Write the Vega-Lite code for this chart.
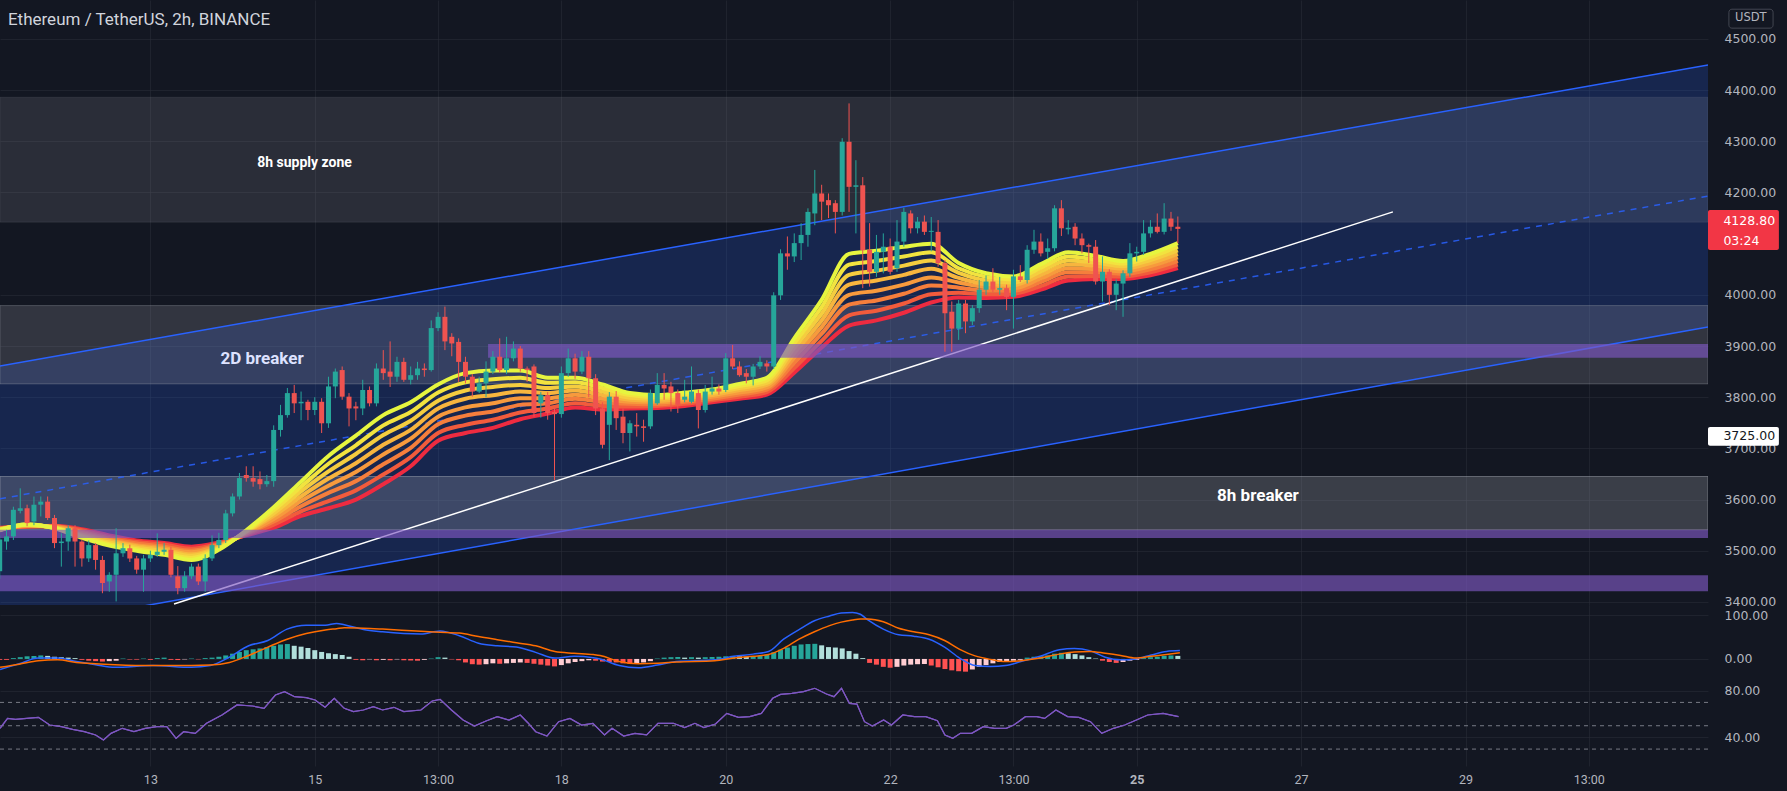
{
"$schema":"https://vega.github.io/schema/vega-lite/v6.json",
"background":"#131722",
"padding":0,
"spacing":0,
"bounds":"flush",
"config":{"view":{"stroke":null},"axis":{"labelFont":"Roboto","labelFontSize":12.5,"labelColor":"#b2b5be","gridColor":"#2a2e39","gridOpacity":0.55,"domain":false,"ticks":false}},
"datasets":{
"candles":[{"t":4,"o":3460,"hi":3530,"lo":3445,"c":3522},{"t":6,"o":3518,"hi":3541,"lo":3502,"c":3528},{"t":8,"o":3528,"hi":3586,"lo":3521,"c":3580},{"t":10,"o":3578,"hi":3622,"lo":3573,"c":3583},{"t":12,"o":3583,"hi":3590,"lo":3548,"c":3554},{"t":14,"o":3557,"hi":3606,"lo":3550,"c":3590},{"t":16,"o":3590,"hi":3606,"lo":3567,"c":3596},{"t":18,"o":3596,"hi":3606,"lo":3560,"c":3564},{"t":20,"o":3564,"hi":3570,"lo":3505,"c":3515},{"t":22,"o":3515,"hi":3534,"lo":3469,"c":3518},{"t":24,"o":3518,"hi":3550,"lo":3500,"c":3544},{"t":26,"o":3544,"hi":3550,"lo":3469,"c":3518},{"t":28,"o":3518,"hi":3522,"lo":3469,"c":3485},{"t":30,"o":3485,"hi":3520,"lo":3478,"c":3511},{"t":32,"o":3511,"hi":3515,"lo":3463,"c":3482},{"t":34,"o":3482,"hi":3490,"lo":3417,"c":3437},{"t":36,"o":3440,"hi":3458,"lo":3420,"c":3453},{"t":38,"o":3453,"hi":3544,"lo":3401,"c":3495},{"t":40,"o":3495,"hi":3515,"lo":3488,"c":3505},{"t":42,"o":3505,"hi":3512,"lo":3478,"c":3485},{"t":44,"o":3485,"hi":3490,"lo":3455,"c":3463},{"t":46,"o":3463,"hi":3492,"lo":3420,"c":3485},{"t":48,"o":3485,"hi":3500,"lo":3478,"c":3492},{"t":50,"o":3492,"hi":3534,"lo":3488,"c":3498},{"t":52,"o":3498,"hi":3515,"lo":3492,"c":3502},{"t":54,"o":3502,"hi":3508,"lo":3448,"c":3453},{"t":56,"o":3450,"hi":3470,"lo":3415,"c":3427},{"t":58,"o":3427,"hi":3460,"lo":3420,"c":3450},{"t":60,"o":3450,"hi":3475,"lo":3445,"c":3469},{"t":62,"o":3469,"hi":3475,"lo":3433,"c":3440},{"t":64,"o":3440,"hi":3493,"lo":3420,"c":3485},{"t":66,"o":3485,"hi":3530,"lo":3480,"c":3511},{"t":68,"o":3511,"hi":3535,"lo":3505,"c":3521},{"t":70,"o":3521,"hi":3580,"lo":3515,"c":3573},{"t":72,"o":3573,"hi":3612,"lo":3567,"c":3606},{"t":74,"o":3606,"hi":3652,"lo":3600,"c":3642},{"t":76,"o":3648,"hi":3665,"lo":3635,"c":3642},{"t":78,"o":3642,"hi":3665,"lo":3625,"c":3635},{"t":80,"o":3640,"hi":3655,"lo":3620,"c":3630},{"t":82,"o":3630,"hi":3648,"lo":3625,"c":3636},{"t":84,"o":3636,"hi":3745,"lo":3625,"c":3736},{"t":86,"o":3736,"hi":3785,"lo":3723,"c":3765},{"t":88,"o":3765,"hi":3818,"lo":3760,"c":3808},{"t":90,"o":3808,"hi":3824,"lo":3769,"c":3788},{"t":92,"o":3788,"hi":3811,"lo":3755,"c":3791},{"t":94,"o":3791,"hi":3795,"lo":3755,"c":3775},{"t":96,"o":3775,"hi":3800,"lo":3765,"c":3791},{"t":98,"o":3791,"hi":3798,"lo":3730,"c":3749},{"t":100,"o":3749,"hi":3840,"lo":3740,"c":3821},{"t":102,"o":3821,"hi":3856,"lo":3798,"c":3850},{"t":104,"o":3853,"hi":3860,"lo":3795,"c":3801},{"t":106,"o":3801,"hi":3808,"lo":3743,"c":3778},{"t":108,"o":3782,"hi":3791,"lo":3755,"c":3778},{"t":110,"o":3778,"hi":3834,"lo":3765,"c":3814},{"t":112,"o":3814,"hi":3821,"lo":3782,"c":3788},{"t":114,"o":3788,"hi":3866,"lo":3782,"c":3856},{"t":116,"o":3856,"hi":3892,"lo":3834,"c":3847},{"t":118,"o":3850,"hi":3909,"lo":3820,"c":3840},{"t":120,"o":3840,"hi":3879,"lo":3830,"c":3869},{"t":122,"o":3869,"hi":3877,"lo":3830,"c":3834},{"t":124,"o":3834,"hi":3860,"lo":3825,"c":3843},{"t":126,"o":3843,"hi":3869,"lo":3834,"c":3856},{"t":128,"o":3856,"hi":3866,"lo":3840,"c":3853},{"t":130,"o":3853,"hi":3950,"lo":3850,"c":3935},{"t":132,"o":3935,"hi":3966,"lo":3929,"c":3957},{"t":134,"o":3957,"hi":3977,"lo":3892,"c":3909},{"t":136,"o":3918,"hi":3925,"lo":3880,"c":3905},{"t":138,"o":3908,"hi":3915,"lo":3830,"c":3869},{"t":140,"o":3869,"hi":3879,"lo":3827,"c":3840},{"t":142,"o":3840,"hi":3845,"lo":3801,"c":3811},{"t":144,"o":3811,"hi":3840,"lo":3808,"c":3827},{"t":146,"o":3827,"hi":3870,"lo":3800,"c":3850},{"t":148,"o":3850,"hi":3890,"lo":3845,"c":3879},{"t":150,"o":3879,"hi":3915,"lo":3848,"c":3853},{"t":152,"o":3853,"hi":3918,"lo":3845,"c":3876},{"t":154,"o":3876,"hi":3909,"lo":3870,"c":3895},{"t":156,"o":3895,"hi":3900,"lo":3850,"c":3856},{"t":158,"o":3856,"hi":3860,"lo":3830,"c":3853},{"t":160,"o":3860,"hi":3864,"lo":3762,"c":3769},{"t":162,"o":3788,"hi":3810,"lo":3760,"c":3804},{"t":164,"o":3804,"hi":3810,"lo":3756,"c":3769},{"t":166,"o":3771,"hi":3780,"lo":3638,"c":3767},{"t":168,"o":3767,"hi":3860,"lo":3760,"c":3847},{"t":170,"o":3847,"hi":3895,"lo":3840,"c":3876},{"t":172,"o":3876,"hi":3885,"lo":3836,"c":3850},{"t":174,"o":3850,"hi":3890,"lo":3845,"c":3879},{"t":176,"o":3879,"hi":3890,"lo":3800,"c":3837},{"t":178,"o":3837,"hi":3845,"lo":3765,"c":3778},{"t":180,"o":3778,"hi":3790,"lo":3700,"c":3707},{"t":182,"o":3746,"hi":3810,"lo":3677,"c":3801},{"t":184,"o":3801,"hi":3812,"lo":3736,"c":3759},{"t":186,"o":3762,"hi":3778,"lo":3710,"c":3730},{"t":188,"o":3730,"hi":3755,"lo":3694,"c":3749},{"t":190,"o":3746,"hi":3769,"lo":3723,"c":3743},{"t":192,"o":3743,"hi":3756,"lo":3713,"c":3740},{"t":194,"o":3743,"hi":3815,"lo":3738,"c":3808},{"t":196,"o":3788,"hi":3847,"lo":3785,"c":3824},{"t":198,"o":3824,"hi":3847,"lo":3795,"c":3817},{"t":200,"o":3821,"hi":3830,"lo":3772,"c":3808},{"t":202,"o":3808,"hi":3815,"lo":3769,"c":3785},{"t":204,"o":3795,"hi":3834,"lo":3790,"c":3801},{"t":206,"o":3791,"hi":3860,"lo":3788,"c":3811},{"t":208,"o":3808,"hi":3815,"lo":3739,"c":3775},{"t":210,"o":3775,"hi":3824,"lo":3770,"c":3811},{"t":212,"o":3811,"hi":3840,"lo":3805,"c":3817},{"t":214,"o":3817,"hi":3825,"lo":3805,"c":3811},{"t":216,"o":3814,"hi":3886,"lo":3810,"c":3876},{"t":218,"o":3876,"hi":3902,"lo":3855,"c":3860},{"t":220,"o":3860,"hi":3870,"lo":3840,"c":3843},{"t":222,"o":3847,"hi":3855,"lo":3827,"c":3840},{"t":224,"o":3840,"hi":3865,"lo":3823,"c":3860},{"t":226,"o":3860,"hi":3880,"lo":3855,"c":3869},{"t":228,"o":3866,"hi":3872,"lo":3850,"c":3860},{"t":230,"o":3860,"hi":4005,"lo":3855,"c":3999},{"t":232,"o":3999,"hi":4089,"lo":3990,"c":4081},{"t":234,"o":4081,"hi":4114,"lo":4049,"c":4075},{"t":236,"o":4075,"hi":4120,"lo":4064,"c":4101},{"t":238,"o":4101,"hi":4140,"lo":4068,"c":4117},{"t":240,"o":4117,"hi":4169,"lo":4094,"c":4162},{"t":242,"o":4159,"hi":4244,"lo":4136,"c":4198},{"t":244,"o":4198,"hi":4215,"lo":4146,"c":4182},{"t":246,"o":4185,"hi":4198,"lo":4150,"c":4175},{"t":248,"o":4179,"hi":4185,"lo":4120,"c":4162},{"t":250,"o":4162,"hi":4306,"lo":4155,"c":4299},{"t":252,"o":4299,"hi":4374,"lo":4162,"c":4211},{"t":254,"o":4211,"hi":4263,"lo":4120,"c":4214},{"t":256,"o":4214,"hi":4230,"lo":4013,"c":4087},{"t":258,"o":4088,"hi":4140,"lo":4016,"c":4045},{"t":260,"o":4045,"hi":4117,"lo":4035,"c":4084},{"t":262,"o":4084,"hi":4120,"lo":4042,"c":4094},{"t":264,"o":4094,"hi":4110,"lo":4040,"c":4045},{"t":266,"o":4052,"hi":4146,"lo":4045,"c":4104},{"t":268,"o":4104,"hi":4170,"lo":4094,"c":4162},{"t":270,"o":4159,"hi":4165,"lo":4120,"c":4130},{"t":272,"o":4130,"hi":4152,"lo":4120,"c":4143},{"t":274,"o":4143,"hi":4155,"lo":4117,"c":4123},{"t":276,"o":4123,"hi":4152,"lo":4085,"c":4125},{"t":278,"o":4123,"hi":4146,"lo":4055,"c":4062},{"t":280,"o":4062,"hi":4068,"lo":3889,"c":3964},{"t":282,"o":3967,"hi":3987,"lo":3889,"c":3934},{"t":284,"o":3934,"hi":3990,"lo":3912,"c":3983},{"t":286,"o":3983,"hi":3990,"lo":3925,"c":3948},{"t":288,"o":3948,"hi":3980,"lo":3941,"c":3974},{"t":290,"o":3974,"hi":4029,"lo":3965,"c":4010},{"t":292,"o":4010,"hi":4038,"lo":4000,"c":4026},{"t":294,"o":4026,"hi":4052,"lo":4005,"c":4010},{"t":296,"o":4010,"hi":4035,"lo":4000,"c":4013},{"t":298,"o":4013,"hi":4020,"lo":3970,"c":3996},{"t":300,"o":3996,"hi":4049,"lo":3934,"c":4036},{"t":302,"o":4036,"hi":4058,"lo":4025,"c":4029},{"t":304,"o":4029,"hi":4097,"lo":4022,"c":4088},{"t":306,"o":4088,"hi":4127,"lo":4080,"c":4104},{"t":308,"o":4104,"hi":4120,"lo":4075,"c":4081},{"t":310,"o":4084,"hi":4110,"lo":4070,"c":4091},{"t":312,"o":4091,"hi":4175,"lo":4085,"c":4169},{"t":314,"o":4169,"hi":4185,"lo":4115,"c":4130},{"t":316,"o":4128,"hi":4146,"lo":4118,"c":4131},{"t":318,"o":4133,"hi":4140,"lo":4097,"c":4110},{"t":320,"o":4110,"hi":4120,"lo":4081,"c":4097},{"t":322,"o":4097,"hi":4100,"lo":4062,"c":4094},{"t":324,"o":4094,"hi":4107,"lo":4020,"c":4026},{"t":326,"o":4026,"hi":4075,"lo":3987,"c":4045},{"t":328,"o":4045,"hi":4050,"lo":3980,"c":4000},{"t":330,"o":4000,"hi":4030,"lo":3970,"c":4022},{"t":332,"o":4022,"hi":4048,"lo":3957,"c":4042},{"t":334,"o":4042,"hi":4101,"lo":4035,"c":4081},{"t":336,"o":4081,"hi":4094,"lo":4065,"c":4084},{"t":338,"o":4084,"hi":4146,"lo":4078,"c":4120},{"t":340,"o":4120,"hi":4146,"lo":4112,"c":4133},{"t":342,"o":4133,"hi":4159,"lo":4120,"c":4123},{"t":344,"o":4123,"hi":4179,"lo":4118,"c":4149},{"t":346,"o":4149,"hi":4162,"lo":4125,"c":4133},{"t":348,"o":4133,"hi":4153,"lo":4101,"c":4128.8}],
"ribbon":[{"t":4,"l1":3540,"l2":3541,"l3":3541,"l4":3542,"l5":3543,"l6":3544,"l7":3544,"l8":3545},{"t":12,"l1":3552,"l2":3551,"l3":3551,"l4":3550,"l5":3549,"l6":3548,"l7":3548,"l8":3547},{"t":20,"l1":3544,"l2":3545,"l3":3545,"l4":3546,"l5":3547,"l6":3548,"l7":3548,"l8":3549},{"t":28,"l1":3525,"l2":3528,"l3":3530,"l4":3532,"l5":3535,"l6":3537,"l7":3540,"l8":3542},{"t":36,"l1":3510,"l2":3513,"l3":3516,"l4":3519,"l5":3521,"l6":3524,"l7":3527,"l8":3530},{"t":44,"l1":3500,"l2":3503,"l3":3506,"l4":3509,"l5":3511,"l6":3514,"l7":3517,"l8":3520},{"t":52,"l1":3492,"l2":3495,"l3":3499,"l4":3502,"l5":3505,"l6":3508,"l7":3512,"l8":3515},{"t":60,"l1":3482,"l2":3486,"l3":3490,"l4":3493,"l5":3497,"l6":3500,"l7":3504,"l8":3508},{"t":68,"l1":3502,"l2":3504,"l3":3506,"l4":3508,"l5":3510,"l6":3512,"l7":3514,"l8":3516},{"t":76,"l1":3540,"l2":3538,"l3":3537,"l4":3536,"l5":3534,"l6":3533,"l7":3531,"l8":3530},{"t":84,"l1":3585,"l2":3579,"l3":3573,"l4":3568,"l5":3562,"l6":3557,"l7":3551,"l8":3545},{"t":92,"l1":3635,"l2":3625,"l3":3616,"l4":3606,"l5":3597,"l6":3587,"l7":3577,"l8":3568},{"t":100,"l1":3685,"l2":3670,"l3":3655,"l4":3641,"l5":3627,"l6":3613,"l7":3597,"l8":3583},{"t":108,"l1":3725,"l2":3706,"l3":3689,"l4":3671,"l5":3654,"l6":3636,"l7":3618,"l8":3600},{"t":116,"l1":3765,"l2":3745,"l3":3726,"l4":3707,"l5":3688,"l6":3669,"l7":3649,"l8":3630},{"t":124,"l1":3790,"l2":3771,"l3":3754,"l4":3736,"l5":3719,"l6":3701,"l7":3683,"l8":3665},{"t":132,"l1":3825,"l2":3809,"l3":3793,"l4":3778,"l5":3762,"l6":3747,"l7":3730,"l8":3715},{"t":140,"l1":3847,"l2":3829,"l3":3813,"l4":3797,"l5":3780,"l6":3764,"l7":3746,"l8":3730},{"t":148,"l1":3852,"l2":3835,"l3":3820,"l4":3804,"l5":3788,"l6":3772,"l7":3756,"l8":3740},{"t":156,"l1":3852,"l2":3838,"l3":3824,"l4":3811,"l5":3798,"l6":3785,"l7":3770,"l8":3757},{"t":164,"l1":3838,"l2":3828,"l3":3818,"l4":3808,"l5":3798,"l6":3788,"l7":3778,"l8":3768},{"t":172,"l1":3838,"l2":3829,"l3":3821,"l4":3813,"l5":3805,"l6":3797,"l7":3788,"l8":3780},{"t":180,"l1":3825,"l2":3818,"l3":3811,"l4":3804,"l5":3797,"l6":3790,"l7":3783,"l8":3776},{"t":188,"l1":3808,"l2":3804,"l3":3799,"l4":3795,"l5":3791,"l6":3787,"l7":3782,"l8":3778},{"t":196,"l1":3804,"l2":3800,"l3":3797,"l4":3793,"l5":3790,"l6":3786,"l7":3783,"l8":3779},{"t":204,"l1":3809,"l2":3805,"l3":3801,"l4":3798,"l5":3794,"l6":3791,"l7":3787,"l8":3783},{"t":212,"l1":3815,"l2":3811,"l3":3808,"l4":3804,"l5":3801,"l6":3797,"l7":3794,"l8":3790},{"t":220,"l1":3826,"l2":3822,"l3":3818,"l4":3814,"l5":3809,"l6":3805,"l7":3801,"l8":3797},{"t":228,"l1":3838,"l2":3833,"l3":3828,"l4":3824,"l5":3819,"l6":3815,"l7":3810,"l8":3805},{"t":236,"l1":3915,"l2":3905,"l3":3896,"l4":3886,"l5":3877,"l6":3867,"l7":3857,"l8":3848},{"t":244,"l1":3990,"l2":3976,"l3":3963,"l4":3950,"l5":3937,"l6":3924,"l7":3910,"l8":3897},{"t":252,"l1":4080,"l2":4059,"l3":4039,"l4":4020,"l5":4000,"l6":3981,"l7":3960,"l8":3940},{"t":260,"l1":4086,"l2":4066,"l3":4047,"l4":4028,"l5":4008,"l6":3989,"l7":3969,"l8":3950},{"t":268,"l1":4094,"l2":4075,"l3":4057,"l4":4039,"l5":4020,"l6":4002,"l7":3983,"l8":3965},{"t":276,"l1":4100,"l2":4083,"l3":4067,"l4":4051,"l5":4034,"l6":4018,"l7":4001,"l8":3985},{"t":284,"l1":4062,"l2":4052,"l3":4043,"l4":4033,"l5":4024,"l6":4014,"l7":4004,"l8":3995},{"t":292,"l1":4042,"l2":4035,"l3":4028,"l4":4021,"l5":4015,"l6":4008,"l7":4001,"l8":3994},{"t":300,"l1":4036,"l2":4030,"l3":4024,"l4":4019,"l5":4013,"l6":4008,"l7":4002,"l8":3996},{"t":308,"l1":4060,"l2":4053,"l3":4046,"l4":4039,"l5":4032,"l6":4025,"l7":4017,"l8":4010},{"t":316,"l1":4083,"l2":4075,"l3":4067,"l4":4059,"l5":4052,"l6":4044,"l7":4036,"l8":4028},{"t":324,"l1":4076,"l2":4069,"l3":4063,"l4":4057,"l5":4050,"l6":4044,"l7":4037,"l8":4031},{"t":332,"l1":4066,"l2":4061,"l3":4056,"l4":4051,"l5":4046,"l6":4041,"l7":4036,"l8":4031},{"t":340,"l1":4080,"l2":4074,"l3":4068,"l4":4062,"l5":4056,"l6":4050,"l7":4044,"l8":4038},{"t":348,"l1":4101,"l2":4094,"l3":4087,"l4":4080,"l5":4073,"l6":4066,"l7":4059,"l8":4052}],
"macd":[{"t":4.1,"m":-24,"s":-19},{"t":9.7,"m":-11,"s":-12},{"t":15.3,"m":2,"s":-4},{"t":20.9,"m":2,"s":-2},{"t":26.4,"m":-6,"s":-8},{"t":32,"m":-13,"s":-11},{"t":37.6,"m":-19,"s":-13},{"t":48.8,"m":-15,"s":-15},{"t":60,"m":-19,"s":-15},{"t":65.5,"m":-15,"s":-14},{"t":71.1,"m":4,"s":-8},{"t":76.7,"m":30,"s":8},{"t":82.3,"m":42,"s":27},{"t":87.9,"m":68,"s":45},{"t":93.5,"m":77,"s":58},{"t":99.1,"m":77,"s":66},{"t":102.4,"m":81,"s":69},{"t":104.6,"m":78,"s":71},{"t":110.2,"m":67,"s":70},{"t":115.8,"m":62,"s":68},{"t":127,"m":57,"s":63},{"t":132.6,"m":64,"s":61},{"t":138.2,"m":53,"s":59},{"t":143.8,"m":36,"s":51},{"t":149.3,"m":30,"s":44},{"t":154.9,"m":27,"s":37},{"t":160.5,"m":15,"s":30},{"t":166.1,"m":2,"s":17},{"t":171.7,"m":6,"s":13},{"t":177.3,"m":3,"s":10},{"t":179.3,"m":0,"s":8},{"t":184.9,"m":-15,"s":-6},{"t":190.5,"m":-20,"s":-11},{"t":196.1,"m":-14,"s":-10},{"t":201.6,"m":-6,"s":-7},{"t":212.8,"m":-2,"s":-4},{"t":218.4,"m":6,"s":2},{"t":224,"m":11,"s":6},{"t":228.5,"m":17,"s":10},{"t":232.9,"m":45,"s":24},{"t":237.4,"m":67,"s":45},{"t":241.9,"m":87,"s":62},{"t":246.3,"m":98,"s":76},{"t":249.7,"m":105,"s":84},{"t":253,"m":106,"s":89},{"t":255.3,"m":102,"s":91},{"t":257.5,"m":89,"s":91},{"t":262,"m":68,"s":85},{"t":266.5,"m":55,"s":70},{"t":270.9,"m":52,"s":62},{"t":275.4,"m":45,"s":55},{"t":279.9,"m":27,"s":42},{"t":284.3,"m":2,"s":22},{"t":288.8,"m":-15,"s":7},{"t":293.3,"m":-17,"s":-1},{"t":297.7,"m":-15,"s":-6},{"t":302.2,"m":-6,"s":-4},{"t":307.8,"m":6,"s":2},{"t":313.4,"m":21,"s":11},{"t":317.8,"m":24,"s":16},{"t":322.3,"m":19,"s":17},{"t":326.8,"m":4,"s":13},{"t":331.3,"m":-2,"s":8},{"t":335.7,"m":0,"s":2},{"t":340.2,"m":9,"s":6},{"t":344.7,"m":17,"s":10},{"t":348.6,"m":19,"s":14}],
"hist":[{"t":4,"v":-2},{"t":6,"v":-2},{"t":8,"v":2},{"t":10,"v":4},{"t":12,"v":6},{"t":14,"v":7},{"t":16,"v":8},{"t":18,"v":7},{"t":20,"v":5},{"t":22,"v":4},{"t":24,"v":3},{"t":26,"v":2},{"t":28,"v":-2},{"t":30,"v":-4},{"t":32,"v":-5},{"t":34,"v":-6},{"t":36,"v":-5},{"t":38,"v":-4},{"t":40,"v":1},{"t":42,"v":-1},{"t":44,"v":-1.5},{"t":46,"v":1},{"t":48,"v":-2},{"t":50,"v":2},{"t":52,"v":3},{"t":54,"v":-2},{"t":56,"v":-2.5},{"t":58,"v":-1},{"t":60,"v":1},{"t":62,"v":-1},{"t":64,"v":2},{"t":66,"v":3},{"t":68,"v":5},{"t":70,"v":8},{"t":72,"v":12},{"t":74,"v":16},{"t":76,"v":20},{"t":78,"v":22},{"t":80,"v":24},{"t":82,"v":27},{"t":84,"v":30},{"t":86,"v":33},{"t":88,"v":34},{"t":90,"v":30},{"t":92,"v":28},{"t":94,"v":25},{"t":96,"v":20},{"t":98,"v":16},{"t":100,"v":13},{"t":102,"v":11},{"t":104,"v":9},{"t":106,"v":5},{"t":108,"v":-2},{"t":110,"v":-3},{"t":112,"v":-1},{"t":114,"v":-3},{"t":116,"v":-2},{"t":118,"v":-3},{"t":120,"v":-1},{"t":122,"v":-3},{"t":124,"v":-3.5},{"t":126,"v":-4},{"t":128,"v":-2},{"t":130,"v":1},{"t":132,"v":4},{"t":134,"v":3},{"t":136,"v":-1},{"t":138,"v":-3},{"t":140,"v":-8},{"t":142,"v":-12},{"t":144,"v":-13},{"t":146,"v":-12},{"t":148,"v":-10},{"t":150,"v":-11},{"t":152,"v":-10},{"t":154,"v":-9},{"t":156,"v":-8},{"t":158,"v":-9},{"t":160,"v":-11},{"t":162,"v":-13},{"t":164,"v":-15},{"t":166,"v":-17},{"t":168,"v":-14},{"t":170,"v":-10},{"t":172,"v":-7},{"t":174,"v":-5},{"t":176,"v":-3},{"t":178,"v":-4},{"t":180,"v":-6},{"t":182,"v":-7},{"t":184,"v":-8},{"t":186,"v":-10},{"t":188,"v":-11},{"t":190,"v":-10},{"t":192,"v":-8},{"t":194,"v":-5},{"t":196,"v":1},{"t":198,"v":3},{"t":200,"v":4},{"t":202,"v":4.5},{"t":204,"v":3},{"t":206,"v":4},{"t":208,"v":3},{"t":210,"v":4},{"t":212,"v":4.5},{"t":214,"v":5},{"t":216,"v":6},{"t":218,"v":7},{"t":220,"v":6},{"t":222,"v":5},{"t":224,"v":5.5},{"t":226,"v":7},{"t":228,"v":10},{"t":230,"v":15},{"t":232,"v":21},{"t":234,"v":26},{"t":236,"v":30},{"t":238,"v":33},{"t":240,"v":34},{"t":242,"v":34.5},{"t":244,"v":31},{"t":246,"v":27},{"t":248,"v":26},{"t":250,"v":24},{"t":252,"v":18},{"t":254,"v":12},{"t":256,"v":2},{"t":258,"v":-9},{"t":260,"v":-13},{"t":262,"v":-18},{"t":264,"v":-20},{"t":266,"v":-18},{"t":268,"v":-15},{"t":270,"v":-13},{"t":272,"v":-12},{"t":274,"v":-11.5},{"t":276,"v":-15},{"t":278,"v":-19},{"t":280,"v":-23},{"t":282,"v":-26},{"t":284,"v":-28},{"t":286,"v":-29},{"t":288,"v":-24},{"t":290,"v":-18},{"t":292,"v":-14},{"t":294,"v":-10},{"t":296,"v":-7},{"t":298,"v":-5},{"t":300,"v":-4},{"t":302,"v":-2},{"t":304,"v":3},{"t":306,"v":5},{"t":308,"v":6},{"t":310,"v":8},{"t":312,"v":12},{"t":314,"v":14},{"t":316,"v":13},{"t":318,"v":11},{"t":320,"v":8},{"t":322,"v":4},{"t":324,"v":1},{"t":326,"v":-4},{"t":328,"v":-7},{"t":330,"v":-9},{"t":332,"v":-7},{"t":334,"v":-4},{"t":336,"v":-2},{"t":338,"v":2},{"t":340,"v":4},{"t":342,"v":5},{"t":344,"v":7},{"t":346,"v":8},{"t":348,"v":7}],
"rsi":[{"t":4.1,"r":47.8},{"t":6.3,"r":56.3},{"t":8.6,"r":55.5},{"t":11.9,"r":56.3},{"t":15.3,"r":57.2},{"t":18.6,"r":50.6},{"t":22,"r":49.2},{"t":25.3,"r":46.9},{"t":28.7,"r":44.9},{"t":32,"r":42.1},{"t":34.3,"r":37.8},{"t":36.5,"r":43.5},{"t":39.8,"r":47.8},{"t":43.2,"r":44.9},{"t":46.5,"r":47.8},{"t":49.9,"r":49.2},{"t":52.8,"r":49.2},{"t":55.5,"r":39.2},{"t":57.7,"r":44.9},{"t":61.1,"r":43.5},{"t":64.4,"r":52.1},{"t":68.9,"r":59.2},{"t":73.3,"r":67.8},{"t":77.8,"r":66.9},{"t":81.2,"r":64.9},{"t":84.5,"r":76.3},{"t":87.2,"r":79.2},{"t":90.1,"r":74.9},{"t":93.5,"r":74.1},{"t":96.1,"r":72.1},{"t":99,"r":65.8},{"t":101.7,"r":73.5},{"t":104.6,"r":64.9},{"t":107.3,"r":62.1},{"t":110.2,"r":63.5},{"t":113.1,"r":66.3},{"t":115.8,"r":63.5},{"t":119.1,"r":65.8},{"t":122,"r":62.1},{"t":127,"r":63.5},{"t":130.3,"r":71.2},{"t":132.6,"r":72.6},{"t":135.9,"r":63.5},{"t":139.3,"r":54.9},{"t":142.6,"r":49.8},{"t":146,"r":54.1},{"t":149.3,"r":57.8},{"t":152.7,"r":54.9},{"t":156,"r":59.2},{"t":158.2,"r":52.6},{"t":160.5,"r":44.9},{"t":163.8,"r":41.2},{"t":167.2,"r":53.5},{"t":170.5,"r":56.3},{"t":173.9,"r":50.6},{"t":177.2,"r":52.1},{"t":180.6,"r":42.1},{"t":182.8,"r":47.8},{"t":186.2,"r":41.2},{"t":189.5,"r":43.5},{"t":192.9,"r":42.1},{"t":196.2,"r":52.1},{"t":200.7,"r":52.1},{"t":204,"r":48.4},{"t":207,"r":52.1},{"t":209.6,"r":48.4},{"t":213,"r":51.5},{"t":216.3,"r":60.6},{"t":219.7,"r":57.2},{"t":223,"r":57.8},{"t":226.4,"r":60.6},{"t":229.7,"r":73.5},{"t":232,"r":76.9},{"t":235.3,"r":77.8},{"t":238.7,"r":79.2},{"t":242,"r":82.1},{"t":245.4,"r":77.2},{"t":247.6,"r":74.9},{"t":249.8,"r":82.1},{"t":252.1,"r":69.2},{"t":254.3,"r":68.6},{"t":256.5,"r":53.5},{"t":258.8,"r":49.8},{"t":262.1,"r":54.9},{"t":264.4,"r":50.6},{"t":267.7,"r":59.2},{"t":271.1,"r":57.8},{"t":274.4,"r":57.8},{"t":277.8,"r":54.3},{"t":280,"r":42.1},{"t":282.3,"r":39.2},{"t":284.5,"r":43.5},{"t":287.8,"r":43.5},{"t":291.2,"r":49.2},{"t":294.5,"r":47.8},{"t":297.9,"r":47.8},{"t":300.1,"r":50.6},{"t":303.5,"r":57.8},{"t":306.8,"r":57.8},{"t":309.1,"r":56.3},{"t":312.4,"r":63.5},{"t":315.8,"r":57.8},{"t":319.1,"r":57.2},{"t":322.5,"r":53.5},{"t":325.8,"r":43.5},{"t":329.2,"r":47.8},{"t":332.5,"r":50.6},{"t":335.9,"r":54.9},{"t":339.2,"r":59.2},{"t":343.7,"r":60.6},{"t":348.2,"r":57.8}],
"zones":[{"k":"supply","x0":4.09,"x1":502.8,"lo":4142,"hi":4386},{"k":"brk2d","x0":4.09,"x1":502.8,"lo":3826,"hi":3979},{"k":"brk8h","x0":4.09,"x1":502.8,"lo":3541,"hi":3645}],
"purple":[{"x0":146.6,"x1":502.8,"lo":3877,"hi":3904},{"x0":4.09,"x1":502.8,"lo":3525,"hi":3541},{"x0":4.09,"x1":502.8,"lo":3421,"hi":3452}],
"channel":[{"t":4.09,"lo":3342,"mid":3601.5,"hi":3861},{"t":502.8,"lo":3937,"mid":4193,"hi":4449}],
"trend":[{"t":54.9,"p":3396},{"t":410.8,"p":4162}],
"labels":[{"k":"title","t":6.4,"p":4537,"txt":"Ethereum / TetherUS, 2h, BINANCE"},{"k":"zone","t":93,"p":4257,"txt":"8h supply zone"},{"k":"zone2","t":80.6,"p":3875,"txt":"2D breaker"},{"k":"zone3","t":371.4,"p":3607,"txt":"8h breaker"}],
"tags":[{"k":"last","t0":502.8,"t1":523.5,"lo":4087.5,"hi":4165.7},{"k":"line","t0":502.8,"t1":523.5,"lo":3705,"hi":3742}],
"tagtext":[{"k":"last","t":507.3,"p":4145,"txt":"4128.80"},{"k":"last","t":507.3,"p":4106,"txt":"03:24"},{"k":"line","t":507.3,"p":3723.5,"txt":"3725.00"}],
"unittext":[{"t":515.3,"p":4540,"txt":"USDT"}],
"unitbox":[{"t0":508.9,"t1":521.8,"lo":4521,"hi":4558}],
"rsilv":[{"lv":30},{"lv":50},{"lv":70}]
},
"vconcat":[
{"width":1708,"height":605,
"layer":[
{"data":{"name":"channel"},"mark":{"type":"area","color":"#2962ff","opacity":0.2,"clip":true},
 "encoding":{"x":{"field":"t","type":"quantitative","scale":{"domain":[4.09,502.8],"nice":false,"zero":false,"padding":0},"axis":{"values":[48,96,132,168,216,264,300,336,384,432,468],"labels":false,"grid":true,"title":null,"minExtent":0,"maxExtent":0}},
 "y":{"field":"lo","type":"quantitative","scale":{"domain":[3394,4576],"nice":false,"zero":false,"padding":0},"axis":{"orient":"right","values":[3400,3500,3600,3700,3800,3900,4000,4200,4300,4400,4500],"format":".2f","grid":true,"title":null,"labelPadding":16,"labelFont":"DejaVu Sans","labelFontSize":12.5,"minExtent":79,"maxExtent":79}},
 "y2":{"field":"hi"}}},
{"data":{"name":"zones"},"mark":{"type":"rect","fill":"#9598a1","stroke":"#b2b5be","strokeWidth":1,"clip":true},
 "encoding":{"x":{"field":"x0","type":"quantitative"},"x2":{"field":"x1"},"y":{"field":"lo","type":"quantitative"},"y2":{"field":"hi"},
 "fillOpacity":{"field":"k","type":"nominal","scale":{"domain":["supply","brk2d","brk8h"],"range":[0.18,0.3,0.4]},"legend":null},
 "strokeOpacity":{"field":"k","type":"nominal","scale":{"domain":["supply","brk2d","brk8h"],"range":[0.1,0.45,0.4]},"legend":null}}},
{"data":{"name":"channel"},"mark":{"type":"line","color":"#2962ff","strokeWidth":1.5,"clip":true},"encoding":{"x":{"field":"t","type":"quantitative"},"y":{"field":"hi","type":"quantitative"}}},
{"data":{"name":"channel"},"mark":{"type":"line","color":"#2962ff","strokeWidth":1.5,"clip":true},"encoding":{"x":{"field":"t","type":"quantitative"},"y":{"field":"lo","type":"quantitative"}}},
{"data":{"name":"channel"},"mark":{"type":"line","color":"#2962ff","strokeWidth":1.5,"strokeDash":[6,6],"opacity":0.85,"clip":true},"encoding":{"x":{"field":"t","type":"quantitative"},"y":{"field":"mid","type":"quantitative"}}},
{"mark":{"type":"rule","color":"#ffffff","strokeWidth":1,"clip":true},"encoding":{"y":{"datum":3725}}},
{"mark":{"type":"rule","color":"#f7525f","strokeWidth":1,"strokeDash":[1,2],"clip":true},"encoding":{"y":{"datum":4128.8}}},
{"data":{"name":"trend"},"mark":{"type":"line","color":"#ffffff","strokeWidth":1.5,"clip":true},"encoding":{"x":{"field":"t","type":"quantitative"},"y":{"field":"p","type":"quantitative"}}},
{"data":{"name":"ribbon"},"transform":[{"fold":["l8","l7","l6","l5","l4","l3","l2","l1"],"as":["line","val"]}],
 "mark":{"type":"line","strokeWidth":4,"interpolate":"monotone","clip":true},
 "encoding":{"x":{"field":"t","type":"quantitative"},"y":{"field":"val","type":"quantitative"},
 "stroke":{"field":"line","type":"nominal","scale":{"domain":["l1","l2","l3","l4","l5","l6","l7","l8"],"range":["#e6f53f","#f2e33f","#f5cd3f","#f7b53e","#f79a3d","#f57e3c","#f25b3c","#ee2b40"]},"legend":null}}},
{"data":{"name":"purple"},"mark":{"type":"rect","fill":"#7e57c2","fillOpacity":0.65,"clip":true},
 "encoding":{"x":{"field":"x0","type":"quantitative"},"x2":{"field":"x1"},"y":{"field":"lo","type":"quantitative"},"y2":{"field":"hi"}}},
{"data":{"name":"candles"},"mark":{"type":"rule","strokeWidth":1,"clip":true},
 "encoding":{"x":{"field":"t","type":"quantitative"},"y":{"field":"lo","type":"quantitative"},"y2":{"field":"hi"},
 "color":{"condition":{"test":"datum.c >= datum.o","value":"#26a69a"},"value":"#ef5350"}}},
{"data":{"name":"candles"},"mark":{"type":"bar","size":5,"clip":true},
 "encoding":{"x":{"field":"t","type":"quantitative"},"y":{"field":"o","type":"quantitative"},"y2":{"field":"c"},
 "color":{"condition":{"test":"datum.c >= datum.o","value":"#26a69a"},"value":"#ef5350"}}},
{"data":{"name":"labels"},"transform":[{"filter":"datum.k=='title'"}],"mark":{"type":"text","align":"left","baseline":"middle","font":"Roboto","fontSize":17,"color":"#d1d4dc","clip":true},
 "encoding":{"x":{"field":"t","type":"quantitative"},"y":{"field":"p","type":"quantitative"},"text":{"field":"txt"}}},
{"data":{"name":"labels"},"transform":[{"filter":"datum.k=='zone'"}],"mark":{"type":"text","align":"center","baseline":"middle","font":"Roboto","fontSize":14,"fontWeight":"bold","color":"#ffffff","clip":true},
 "encoding":{"x":{"field":"t","type":"quantitative"},"y":{"field":"p","type":"quantitative"},"text":{"field":"txt"}}},
{"data":{"name":"labels"},"transform":[{"filter":"datum.k=='zone2' || datum.k=='zone3'"}],"mark":{"type":"text","align":"center","baseline":"middle","font":"Roboto","fontSize":17,"fontWeight":"bold","clip":true},
 "encoding":{"x":{"field":"t","type":"quantitative"},"y":{"field":"p","type":"quantitative"},"text":{"field":"txt"},
 "color":{"condition":{"test":"datum.k=='zone2'","value":"#dde2ff"},"value":"#ffffff"}}},
{"data":{"name":"tags"},"mark":{"type":"rect","cornerRadius":2},
 "encoding":{"x":{"field":"t0","type":"quantitative"},"x2":{"field":"t1"},"y":{"field":"lo","type":"quantitative"},"y2":{"field":"hi"},
 "color":{"condition":{"test":"datum.k=='last'","value":"#f23645"},"value":"#ffffff"}}},
{"data":{"name":"unitbox"},"mark":{"type":"rect","cornerRadius":3,"fillOpacity":0,"stroke":"#434651","strokeWidth":1},
 "encoding":{"x":{"field":"t0","type":"quantitative"},"x2":{"field":"t1"},"y":{"field":"lo","type":"quantitative"},"y2":{"field":"hi"}}},
{"data":{"name":"tagtext"},"mark":{"type":"text","align":"left","baseline":"middle","font":"DejaVu Sans","fontSize":12.5},
 "encoding":{"x":{"field":"t","type":"quantitative"},"y":{"field":"p","type":"quantitative"},"text":{"field":"txt"},
 "color":{"condition":{"test":"datum.k=='last'","value":"#ffffff"},"value":"#131722"}}},
{"data":{"name":"unittext"},"mark":{"type":"text","align":"center","baseline":"middle","font":"DejaVu Sans","fontSize":11.5,"color":"#b2b5be"},
 "encoding":{"x":{"field":"t","type":"quantitative"},"y":{"field":"p","type":"quantitative"},"text":{"field":"txt"}}}
]},
{"width":1708,"height":75,
"layer":[
{"mark":{"type":"rule","color":"#2a2e39","strokeWidth":1},"encoding":{"y":{"datum":123}}},
{"data":{"name":"hist"},"transform":[{"window":[{"op":"lag","field":"v","as":"pv"}],"sort":[{"field":"t"}]}],
 "mark":{"type":"bar","size":5,"clip":true},
 "encoding":{"x":{"field":"t","type":"quantitative","scale":{"domain":[4.09,502.8],"nice":false,"zero":false,"padding":0},"axis":{"values":[48,96,132,168,216,264,300,336,384,432,468],"labels":false,"grid":true,"title":null,"minExtent":0,"maxExtent":0}},
 "y":{"field":"v","type":"quantitative","scale":{"domain":[-48,123],"nice":false,"zero":false,"padding":0},"axis":{"orient":"right","values":[0,100],"format":".2f","grid":true,"title":null,"labelPadding":16,"labelFont":"DejaVu Sans","labelFontSize":12.5,"minExtent":79,"maxExtent":79}},
 "y2":{"datum":0},
 "color":{"condition":[{"test":"datum.v>=0 && (datum.pv==null || datum.v>=datum.pv)","value":"#26a69a"},{"test":"datum.v>=0","value":"#b2dfdb"},{"test":"datum.pv==null || datum.v<=datum.pv","value":"#ff5252"}],"value":"#ffcdd2"}}},
{"data":{"name":"macd"},"mark":{"type":"line","color":"#2962ff","strokeWidth":1.5,"interpolate":"monotone","clip":true},"encoding":{"x":{"field":"t","type":"quantitative"},"y":{"field":"m","type":"quantitative"}}},
{"data":{"name":"macd"},"mark":{"type":"line","color":"#ff6d00","strokeWidth":1.5,"interpolate":"monotone","clip":true},"encoding":{"x":{"field":"t","type":"quantitative"},"y":{"field":"s","type":"quantitative"}}}
]},
{"width":1708,"height":86,
"layer":[
{"data":{"name":"rsi"},"mark":{"type":"line","color":"#7e57c2","strokeWidth":1.2,"clip":true},
 "encoding":{"x":{"field":"t","type":"quantitative","scale":{"domain":[4.09,502.8],"nice":false,"zero":false,"padding":0},
 "axis":{"values":[48,96,132,168,216,264,300,336,384,432,468],"grid":true,"title":null,"labelPadding":7,"minExtent":25,"maxExtent":25,
 "labelExpr":"datum.value==48?'13':datum.value==96?'15':datum.value==168?'18':datum.value==216?'20':datum.value==264?'22':datum.value==336?'25':datum.value==384?'27':datum.value==432?'29':'13:00'",
 "labelFontWeight":{"condition":{"test":"datum.value==336","value":"bold"},"value":"normal"}}},
 "y":{"field":"r","type":"quantitative","scale":{"domain":[15.5,89.2],"nice":false,"zero":false,"padding":0},"axis":{"orient":"right","values":[40,80],"format":".2f","grid":true,"title":null,"labelPadding":16,"labelFont":"DejaVu Sans","labelFontSize":12.5,"minExtent":79,"maxExtent":79}}}},
{"mark":{"type":"rule","color":"#2a2e39","strokeWidth":1},"encoding":{"y":{"datum":89.2}}},
{"mark":{"type":"rect","color":"#7e57c2","opacity":0.1,"clip":true},"encoding":{"x":{"datum":4.09},"x2":{"datum":502.8},"y":{"datum":30},"y2":{"datum":70}}},
{"data":{"name":"rsilv"},"mark":{"type":"rule","color":"#787b86","strokeDash":[4,4],"strokeWidth":1,"clip":true},"encoding":{"y":{"field":"lv","type":"quantitative"}}},
{"data":{"name":"rsi"},"mark":{"type":"line","color":"#7e57c2","strokeWidth":1.2,"clip":true},"encoding":{"x":{"field":"t","type":"quantitative"},"y":{"field":"r","type":"quantitative"}}}
]}
]
}
